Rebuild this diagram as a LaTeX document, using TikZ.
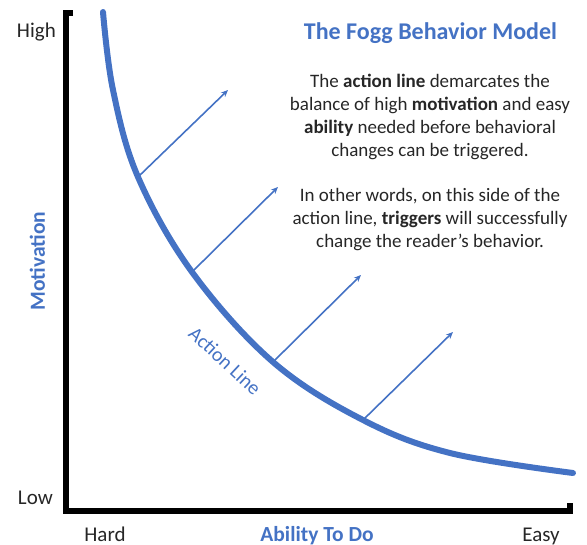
\documentclass[tikz,border=0pt]{standalone}
\usepackage{fontspec}
\setmainfont{Carlito}
\usetikzlibrary{arrows.meta}
\definecolor{fbmblue}{HTML}{4472C4}
\tikzset{
  axisline/.style={line width=6pt, line join=miter, black},
  actionline/.style={line width=6pt, fbmblue, line cap=round},
  trigger/.style={line width=1.6pt, fbmblue, -{Stealth[length=7pt,width=6pt]}},
  ticklabel/.style={font=\fontsize{21}{24}\selectfont, text=black!85, inner sep=1pt},
  axistitle/.style={font=\fontsize{21.5}{24}\selectfont\bfseries, text=fbmblue, inner sep=1pt},
  bodytext/.style={font=\fontsize{19}{23}\selectfont, text=black!85, align=center},
}
\begin{document}
\begin{tikzpicture}[x=1pt, y=-1pt]
\useasboundingbox (0,0) rectangle (587,545);

% axes
\draw[axisline] (73,13) -- (66,13) -- (66,511.5) -- (570,511.5) -- (570,503);

% axis labels
\node[ticklabel, anchor=east] (high) at (57,32) {High};
\node[ticklabel, anchor=east] (low) at (54,498) {Low};
\node[ticklabel, anchor=base] (hard) at (105,541) {Hard};
\node[ticklabel, anchor=base] (easy) at (541,541) {Easy};
\node[axistitle, anchor=base] (ability) at (317,541) {Ability To Do};
\node[axistitle, rotate=90] (motivation) at (37.5,261) {Motivation};

% action line
\draw[actionline] plot[smooth, tension=0.6] coordinates
  {(103,12) (113,90) (138,177) (192,272) (273,362) (363,420) (450,453) (573,473)};
\node[font=\fontsize{20}{24}\selectfont, text=fbmblue, rotate=-43, inner sep=0pt] (actionlabel) at (225,361) {Action Line};

% triggers
\coordinate (t1s) at (138,177); \coordinate (t1e) at (228,90);
\coordinate (t2s) at (192,272); \coordinate (t2e) at (278,187);
\coordinate (t3s) at (273,362); \coordinate (t3e) at (361,275);
\coordinate (t4s) at (363,420); \coordinate (t4e) at (453,332);
\draw[trigger] (t1s) -- (t1e);
\draw[trigger] (t2s) -- (t2e);
\draw[trigger] (t3s) -- (t3e);
\draw[trigger] (t4s) -- (t4e);

% title and explanation
\node[font=\fontsize{24}{28}\selectfont\bfseries, text=fbmblue] (title) at (430.5,33) {The Fogg Behavior Model};
\node[bodytext] (para1) at (430,117) {The \textbf{action line} demarcates the\\
balance of high \textbf{motivation} and easy\\
\textbf{ability} needed before behavioral\\
changes can be triggered.};
\node[bodytext] (para2) at (430,220) {In other words, on this side of the\\
action line, \textbf{triggers} will successfully\\
change the reader’s behavior.};
\end{tikzpicture}
\end{document}
